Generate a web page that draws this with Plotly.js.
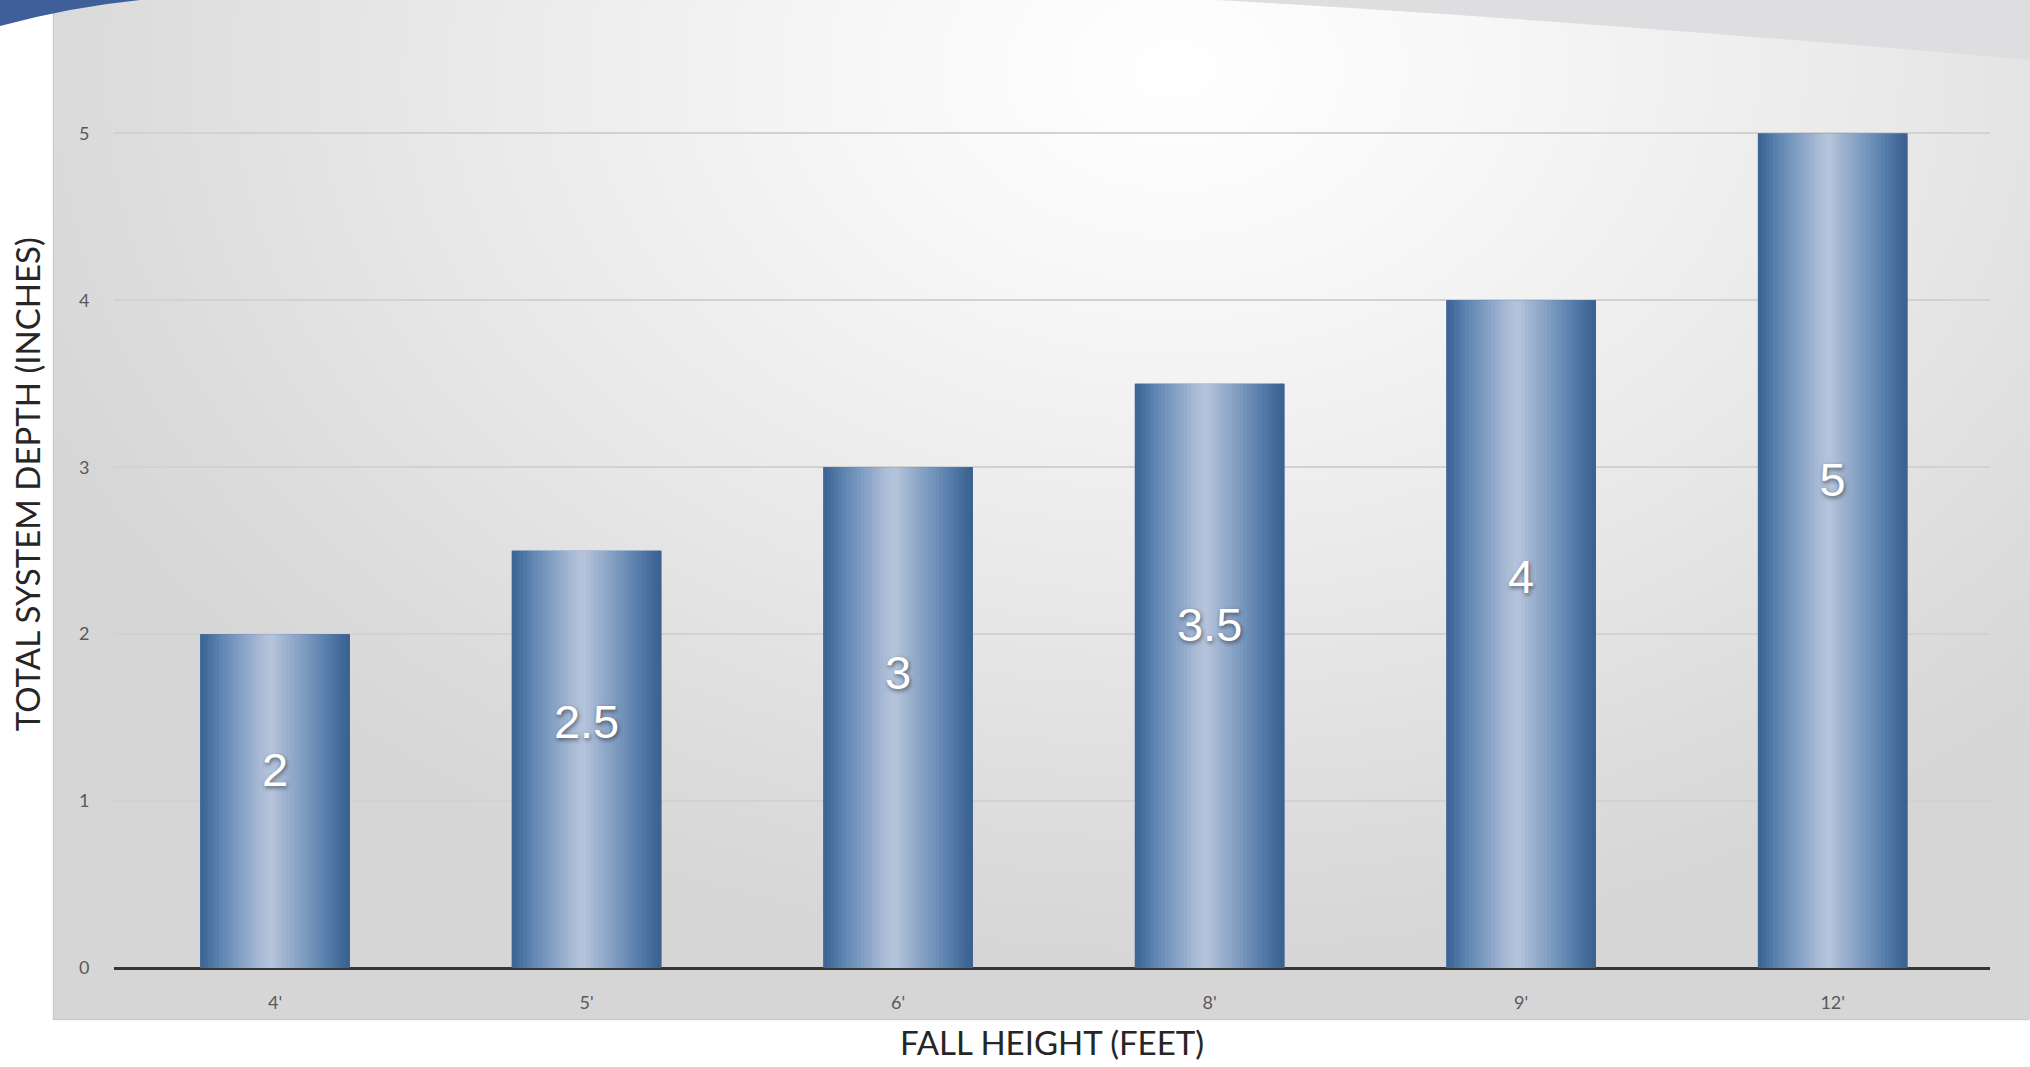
<!DOCTYPE html>
<html>
<head>
<meta charset="utf-8">
<script src="https://cdn.plot.ly/plotly-3.0.1.min.js"></script>
<style>
  html, body { margin: 0; padding: 0; background: #ffffff; }
  #wrap { position: relative; width: 2030px; height: 1067px; overflow: hidden; background: #ffffff; }
  #panel {
    position: absolute; left: 54px; top: 0; width: 1976px; height: 1019px;
    background: radial-gradient(ellipse 1250px 900px at 1120px 70px, #ffffff 0%, #f7f7f7 25%, #e8e8e8 60%, #dcdcdc 85%, #d6d6d6 100%);
    box-shadow: -1px 1px 1px #c9c9c9;
  }
  #deco { position: absolute; left: 0; top: 0; }
  #chart { position: absolute; left: 0; top: 0; width: 2030px; height: 1067px; }
</style>
</head>
<body>
<div id="wrap">
  <div id="panel"></div>
  <svg id="deco" width="2030" height="1067">
    <path d="M1217,0 Q1600,22 2030,60 L2030,0 Z" fill="#dedddf"/>
    <path d="M0,0 L140,0 Q70,7 0,26 Z" fill="#3e5f99"/>
  </svg>
  <div id="chart"></div>
</div>
<script>
// ---- data ----
const categories = ["4'", "5'", "6'", "8'", "9'", "12'"];
const depthValues = [2, 2.5, 3, 3.5, 4, 5];
const yTickValues = [0, 1, 2, 3, 4, 5];
const yTickLabels = ["0", "1", "2", "3", "4", "5"];
const xTitle = 'FALL HEIGHT (FEET)';
const yTitle = 'TOTAL SYSTEM DEPTH (INCHES)';

// ---- styling helpers ----
const BAR_W = 0.48;
const N_SLICES = 40;
const gradStops = [
  [0.00, [58, 98, 146]],
  [0.04, [66, 108, 156]],
  [0.12, [90, 129, 174]],
  [0.26, [128, 157, 195]],
  [0.40, [168, 186, 213]],
  [0.48, [182, 197, 220]],
  [0.56, [160, 180, 208]],
  [0.70, [124, 154, 191]],
  [0.84, [88, 127, 172]],
  [0.94, [66, 105, 152]],
  [1.00, [57, 96, 143]]
];
function gradColor(t) {
  for (let i = 1; i < gradStops.length; i++) {
    if (t <= gradStops[i][0]) {
      const a = gradStops[i - 1], b = gradStops[i];
      const f = (t - a[0]) / (b[0] - a[0]);
      const c = a[1].map((v, k) => Math.round(v + (b[1][k] - v) * f));
      return 'rgb(' + c.join(',') + ')';
    }
  }
  const l = gradStops[gradStops.length - 1][1];
  return 'rgb(' + l.join(',') + ')';
}

const traces = [];
traces.push({
  type: 'bar', x: categories, y: depthValues,
  width: BAR_W, offset: -BAR_W / 2,
  marker: { color: '#3d6696', line: { width: 0 } },
  hoverinfo: 'x+y', showlegend: false
});
const sw = BAR_W / N_SLICES;
for (let i = 0; i < N_SLICES; i++) {
  traces.push({
    type: 'bar', x: categories, y: depthValues,
    width: i === N_SLICES - 1 ? sw : sw + 0.003,
    offset: -BAR_W / 2 + i * sw,
    marker: { color: gradColor((i + 0.5) / N_SLICES), line: { width: 0 } },
    hoverinfo: 'skip', showlegend: false
  });
}
// value labels
traces.push({
  type: 'scatter', mode: 'text', x: categories,
  y: depthValues.map(v => v * 0.58),
  text: depthValues.map(v => String(v)),
  textposition: 'middle center',
  textfont: { family: 'Liberation Sans, Arial, sans-serif', size: 47, color: '#ffffff',
              shadow: '1px 2px 4px rgba(0,0,0,0.5)' },
  hoverinfo: 'skip', showlegend: false
});

const titleFont = { family: 'Lato, Open Sans, sans-serif', size: 33, color: '#262626' };
const layout = {
  width: 2030, height: 1067,
  paper_bgcolor: 'rgba(0,0,0,0)', plot_bgcolor: 'rgba(0,0,0,0)',
  margin: { l: 114, r: 40, t: 50, b: 99 },
  barmode: 'overlay',
  showlegend: false,
  xaxis: {
    type: 'category', range: [-0.517, 5.505],
    showgrid: false, showline: false, zeroline: false,
    ticks: 'outside', ticklen: 18, tickcolor: 'rgba(0,0,0,0)',
    tickfont: { family: 'Lato, Open Sans, sans-serif', size: 18, color: '#595959' },
    title: { text: xTitle, standoff: 20, font: titleFont },
    automargin: false
  },
  yaxis: {
    range: [0, 5.5],
    tickvals: yTickValues, ticktext: yTickLabels,
    showgrid: true, gridcolor: '#d2d2d2', gridwidth: 2,
    zeroline: true, zerolinecolor: '#363636', zerolinewidth: 3,
    showline: false,
    ticks: 'outside', ticklen: 20, tickcolor: 'rgba(0,0,0,0)',
    tickfont: { family: 'Lato, Open Sans, sans-serif', size: 18, color: '#595959' },
    automargin: false
  },
  annotations: [{
    text: yTitle, textangle: -90, showarrow: false,
    xref: 'paper', yref: 'paper', x: -0.0464, y: 0.527,
    xanchor: 'center', yanchor: 'middle', font: titleFont
  }]
};

Plotly.newPlot('chart', traces, layout, { displayModeBar: false, staticPlot: true });
</script>
</body>
</html>
